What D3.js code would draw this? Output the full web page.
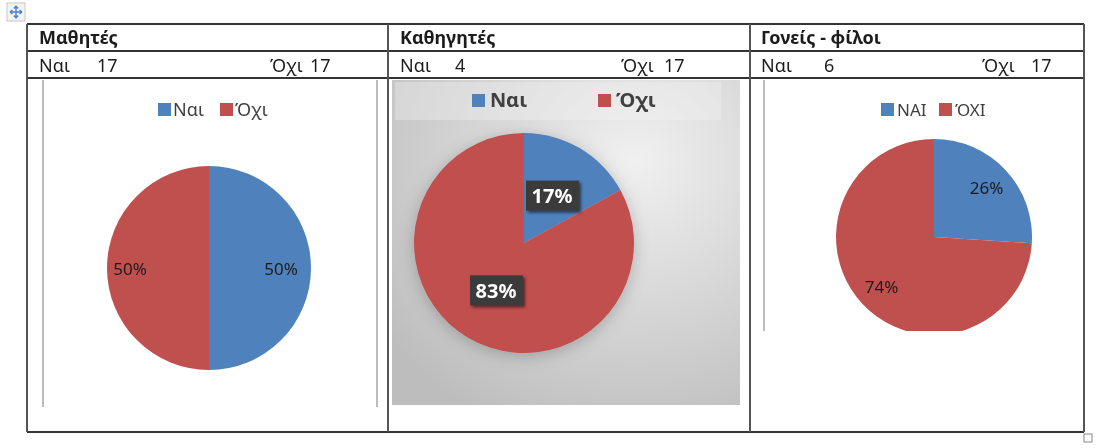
<!DOCTYPE html>
<html lang="el">
<head>
<meta charset="UTF-8">
<title>Ναι / Όχι</title>
<style>
  html, body { margin: 0; padding: 0; background: #fff; }
  svg { display: block; filter: blur(0.5px); }
  text { font-family: "Noto Sans", "Open Sans", sans-serif; fill: #1c1c1c; }
</style>
</head>
<body>
<svg id="chart" width="1097" height="448"></svg>
<script src="https://cdnjs.cloudflare.com/ajax/libs/d3/7.8.5/d3.min.js"></script>
<script>
// values
const groups = ["Μαθητές", "Καθηγητές", "Γονείς - φίλοι"];
const yesCounts = [17, 4, 6];
const noCounts = [17, 17, 17];
// the middle chart shows 17/83 even though the counts above it say otherwise
const yesShares = [50, 17, 26];
const noShares = [50, 83, 74];
const legendYes = ["Ναι", "Ναι", "ΝΑΙ"];
const legendNo = ["Όχι", "Όχι", "ΌΧΙ"];

const blue = "#4f81bd", red = "#c0504d";

// layout of each table cell
const cells = [
  { cx: 209, cy: 268, r: 102, labelR: 75.5, labelDx: -3.5, labelSize: 17,
    rowX: [39, 97, 270, 310], legY: 103, legGap: 2, legSize: 18, legX: [158, 220] },
  { cx: 524, cy: 243, r: 110, labelR: 55, labelDx: 0, labelSize: 20,
    rowX: [400, 455, 621, 664], legY: 94, legGap: 5, legSize: 20, legX: [472, 598] },
  { cx: 934, cy: 237, r: 98, labelR: 72, labelDx: 0, labelSize: 17,
    rowX: [761, 824, 982, 1031], legY: 103, legGap: 3, legSize: 17, legX: [881, 939] }
];
const swatch = 13;

const svg = d3.select("#chart");
const defs = svg.append("defs");

// grey panel behind the middle chart
const grad = defs.append("radialGradient").attr("id", "panelGrad")
  .attr("cx", "70%").attr("cy", "25%").attr("r", "90%");
grad.append("stop").attr("offset", "0%").attr("stop-color", "#f0f0f0");
grad.append("stop").attr("offset", "55%").attr("stop-color", "#d4d4d4");
grad.append("stop").attr("offset", "100%").attr("stop-color", "#bdbdbd");

const shadow = defs.append("filter").attr("id", "pieShadow")
  .attr("x", "-20%").attr("y", "-20%").attr("width", "140%").attr("height", "140%");
shadow.append("feDropShadow").attr("dx", 0).attr("dy", 3).attr("stdDeviation", 8)
  .attr("flood-color", "#000").attr("flood-opacity", 0.22);

const boxShadow = defs.append("filter").attr("id", "boxShadow")
  .attr("x", "-20%").attr("y", "-20%").attr("width", "150%").attr("height", "150%");
boxShadow.append("feDropShadow").attr("dx", 2).attr("dy", 2).attr("stdDeviation", 1.5)
  .attr("flood-color", "#000").attr("flood-opacity", 0.55);

// third pie is cut off flat by its picture frame
defs.append("clipPath").attr("id", "clip3")
  .append("rect").attr("x", 760).attr("y", 80).attr("width", 320).attr("height", 251);

svg.append("rect").attr("x", 392).attr("y", 80).attr("width", 348).attr("height", 325)
  .attr("fill", "url(#panelGrad)");
svg.append("rect").attr("x", 395).attr("y", 82).attr("width", 326).attr("height", 38)
  .attr("fill", "#f4f4f4").attr("opacity", 0.35);

// leftover chart frame edges
const frames = [[43, 80, 407], [377, 80, 407], [764, 80, 331]];
svg.selectAll("line.frame").data(frames).join("line")
  .attr("class", "frame")
  .attr("x1", d => d[0]).attr("x2", d => d[0])
  .attr("y1", d => d[1]).attr("y2", d => d[2])
  .attr("stroke", "#bcbcbc").attr("stroke-width", 2);

const pie = d3.pie().sort(null).value(d => d);

cells.forEach(function (c, i) {
  const g = svg.append("g");
  if (i === 2) g.attr("clip-path", "url(#clip3)");

  const slices = pie([yesShares[i], noShares[i]]);
  const arc = d3.arc().innerRadius(0).outerRadius(c.r);
  const labelArc = d3.arc().innerRadius(c.labelR).outerRadius(c.labelR);

  const wedges = g.append("g").attr("transform", `translate(${c.cx},${c.cy})`);
  if (i === 1) wedges.attr("filter", "url(#pieShadow)");
  wedges.selectAll("path").data(slices).join("path")
    .attr("d", arc)
    .attr("fill", (d, j) => j === 0 ? blue : red);

  const labels = svg.append("g").attr("transform", `translate(${c.cx + c.labelDx},${c.cy})`);
  slices.forEach(function (d) {
    const pos = labelArc.centroid(d);
    if (i === 1) {
      labels.append("rect")
        .attr("x", pos[0] - 26).attr("y", pos[1] - 15)
        .attr("width", 53).attr("height", 30)
        .attr("fill", "#3a3a3a").attr("filter", "url(#boxShadow)");
    }
    labels.append("text")
      .attr("x", pos[0]).attr("y", pos[1])
      .attr("text-anchor", "middle").attr("dominant-baseline", "central")
      .attr("font-size", c.labelSize)
      .attr("font-weight", i === 1 ? "bold" : "normal")
      .style("fill", i === 1 ? "#fff" : "#1c1c1c")
      .text(d.value + "%");
  });

  // legend
  [[legendYes[i], blue], [legendNo[i], red]].forEach(function (item, j) {
    svg.append("rect")
      .attr("x", c.legX[j]).attr("y", c.legY)
      .attr("width", swatch).attr("height", swatch)
      .attr("fill", item[1]);
    svg.append("text")
      .attr("x", c.legX[j] + swatch + c.legGap).attr("y", c.legY + swatch)
      .attr("font-size", c.legSize)
      .attr("font-weight", i === 1 ? "bold" : "normal")
      .style("fill", "#404040")
      .text(item[0]);
  });

  // table header rows
  svg.append("text").attr("x", c.rowX[0]).attr("y", 44)
    .attr("font-size", 18).attr("font-weight", "bold").text(groups[i]);
  const row = [["Ναι", 0], [yesCounts[i], 1], ["Όχι", 2], [noCounts[i], 3]];
  row.forEach(function (t) {
    svg.append("text").attr("x", c.rowX[t[1]]).attr("y", 72)
      .attr("font-size", 18).text(t[0]);
  });
});

// table grid
const hLines = [24, 51, 78, 432];
const vLines = [27, 388, 750, 1084];
svg.selectAll("line.h").data(hLines).join("line").attr("class", "h")
  .attr("x1", 27).attr("x2", 1084).attr("y1", d => d).attr("y2", d => d)
  .attr("stroke", "#333").attr("stroke-width", 2);
svg.selectAll("line.v").data(vLines).join("line").attr("class", "v")
  .attr("x1", d => d).attr("x2", d => d).attr("y1", 24).attr("y2", 432)
  .attr("stroke", "#555").attr("stroke-width", 2);

// word table move handle and resize handle
const handle = svg.append("g");
handle.append("rect").attr("x", 7).attr("y", 3).attr("width", 18).attr("height", 18)
  .attr("fill", "#f2f2f2").attr("stroke", "#c8c8c8");
handle.append("path").attr("d", "M10 12H22M16 6V18M16 6l-2 2.500M16 6l2 2.500M16 18l-2-2.500M16 18l2-2.500M10 12l2.500-2M10 12l2.500 2M22 12l-2.500-2M22 12l-2.500 2")
  .attr("fill", "none").attr("stroke", "#4a7fd0").attr("stroke-width", 1.4);
svg.append("rect").attr("x", 1084).attr("y", 434).attr("width", 8).attr("height", 8)
  .attr("fill", "#fff").attr("stroke", "#999").attr("stroke-width", 1.2);
</script>
</body>
</html>
